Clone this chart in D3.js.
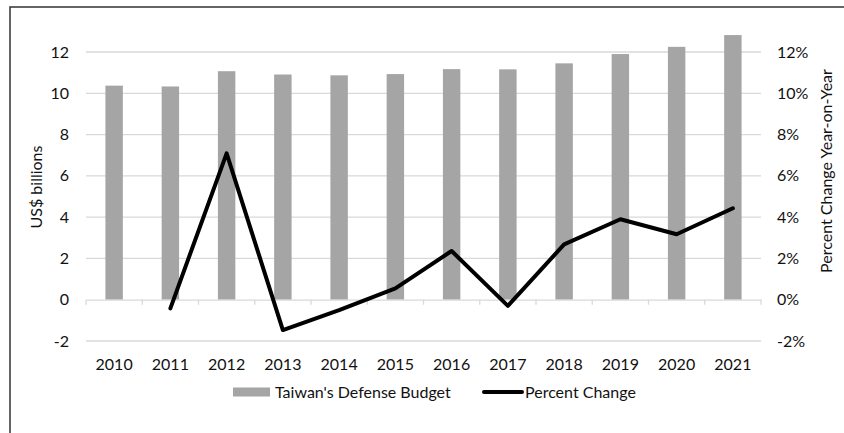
<!DOCTYPE html>
<html><head><meta charset="utf-8">
<script src="https://cdn.jsdelivr.net/npm/d3@7"></script>
<style>body{margin:0;background:#fff}svg{display:block}text{font-family:Lato,"Liberation Sans",sans-serif;fill:#111}</style>
</head><body><svg id="c" width="844" height="433"></svg>
<script>
const years = ["2010","2011","2012","2013","2014","2015","2016","2017","2018","2019","2020","2021"];
const budget = [10.37,10.33,11.07,10.91,10.87,10.93,11.17,11.16,11.45,11.9,12.25,12.82];
const pctChange = [null,-0.42,7.09,-1.47,-0.5,0.55,2.36,-0.3,2.68,3.9,3.17,4.43];
const leftTicks = [-2,0,2,4,6,8,10,12];
const rightTicks = [-2,0,2,4,6,8,10,12];
const seriesNames = ["Taiwan's Defense Budget","Percent Change"];

const FS = 16;
const svg = d3.select("#c");
const L = 86, R = 761, T = 52, B = 341;
const x = d3.scaleBand().domain(years).range([L,R]).paddingInner(0.69).paddingOuter(0.345);
const xb = d3.scaleBand().domain(years).range([L,R]);
const y = d3.scaleLinear().domain([-2,12]).range([B,T]);
const y2 = d3.scaleLinear().domain([-2,12]).range([B,T]);

// frame
svg.append("rect").attr("x",10).attr("y",7).attr("width",900).attr("height",500)
  .attr("fill","none").attr("stroke","#333").attr("stroke-width",1.5);

// gridlines
svg.append("g").selectAll("line").data(leftTicks.filter(d=>d!==0)).join("line")
  .attr("x1",L).attr("x2",R).attr("y1",d=>y(d)).attr("y2",d=>y(d))
  .attr("stroke","#d9d9d9").attr("stroke-width",1.3);

// bars
svg.append("g").selectAll("rect").data(years).join("rect")
  .attr("x",d=>x(d)).attr("width",x.bandwidth())
  .attr("y",(d,i)=>y(budget[i])).attr("height",(d,i)=>y(0)-y(budget[i]))
  .attr("fill","#a5a5a5");

// zero axis with ticks
const ax = svg.append("g").attr("transform",`translate(0,${y(0)})`)
  .call(d3.axisBottom(xb).tickSize(0).tickFormat(""));
ax.select(".domain").attr("stroke","#d9d9d9").attr("stroke-width",1.3);
ax.selectAll(".bt").data(d3.range(years.length+1)).join("line").attr("class","bt")
  .attr("x1",i=>L+i*xb.step()).attr("x2",i=>L+i*xb.step()).attr("y1",0).attr("y2",5)
  .attr("stroke","#d9d9d9").attr("stroke-width",1.3);

// year labels
svg.append("g").selectAll("text").data(years).join("text")
  .attr("x",d=>xb(d)+xb.bandwidth()/2).attr("y",364).attr("dy","0.35em")
  .attr("text-anchor","middle").attr("font-size",FS).text(d=>d);

// left axis labels
svg.append("g").call(d3.axisLeft(y).tickValues(leftTicks).tickSize(0).tickPadding(0).tickFormat(d=>String(d)))
  .attr("transform",`translate(69,0)`)
  .call(g=>g.select(".domain").remove())
  .selectAll("text").attr("font-size",FS).attr("font-family","Lato,'Liberation Sans',sans-serif").attr("fill","#111");

// right axis labels
svg.append("g").call(d3.axisRight(y2).tickValues(rightTicks).tickSize(0).tickPadding(0).tickFormat(d=>String(d)+"%"))
  .attr("transform",`translate(777,0)`)
  .call(g=>g.select(".domain").remove())
  .selectAll("text").attr("font-size",FS).attr("font-family","Lato,'Liberation Sans',sans-serif").attr("fill","#111");

// axis titles
svg.append("text").attr("transform","translate(36,187) rotate(-90)").attr("text-anchor","middle")
  .attr("dy","0.35em").attr("font-size",FS).text("US$ billions");
svg.append("text").attr("transform","translate(826,171) rotate(-90)").attr("text-anchor","middle")
  .attr("dy","0.35em").attr("font-size",FS).text("Percent Change Year-on-Year");

// line
const line = d3.line().defined(d=>d[1]!==null)
  .x(d=>xb(d[0])+xb.bandwidth()/2).y(d=>y2(d[1]));
svg.append("path").datum(years.map((yr,i)=>[yr,pctChange[i]]))
  .attr("d",line).attr("fill","none").attr("stroke","#000").attr("stroke-width",4)
  .attr("stroke-linejoin","round").attr("stroke-linecap","round");

// legend
const lg = svg.append("g");
lg.append("rect").attr("x",233).attr("y",387.5).attr("width",37).attr("height",9).attr("fill","#a5a5a5");
lg.append("text").attr("x",275).attr("y",392).attr("dy","0.35em").attr("font-size",FS).text(seriesNames[0]);
lg.append("line").attr("x1",484).attr("x2",522).attr("y1",392).attr("y2",392)
  .attr("stroke","#000").attr("stroke-width",4).attr("stroke-linecap","round");
lg.append("text").attr("x",525).attr("y",392).attr("dy","0.35em").attr("font-size",FS).text(seriesNames[1]);
</script></body></html>
